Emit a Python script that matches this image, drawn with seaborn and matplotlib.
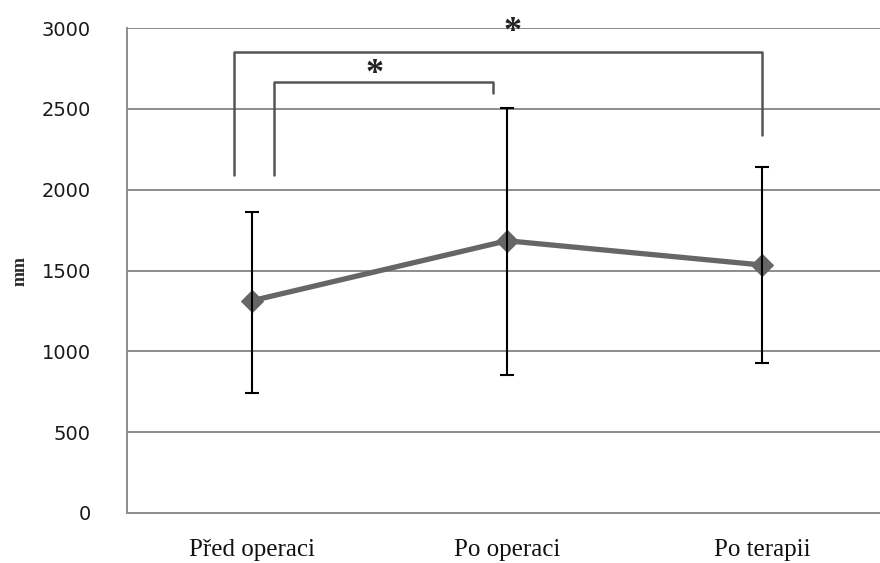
import matplotlib
matplotlib.use("Agg")
import matplotlib.pyplot as plt
import seaborn as sns
import pandas as pd

# Step length (mm) at three time points: mean with lower/upper SD limits
categories = ["Před operaci", "Po operaci", "Po terapii"]
means = [1313, 1684, 1534]
upper = [1863, 2507, 2142]
lower = [744, 853, 930]
y_ticks = [0, 500, 1000, 1500, 2000, 2500, 3000]

df = pd.DataFrame({"stav": categories, "mm": means})

sns.set_theme(style="white")
plt.rcParams["font.family"] = ["DejaVu Sans"]

fig = plt.figure(figsize=(8.8, 5.63), dpi=100)
ax = fig.add_axes([127 / 880, 50 / 563, 753 / 880, 485 / 563])

# horizontal grid
for t in y_ticks:
    ax.axhline(t, color="#8c8c8c", lw=1.4, zorder=0)

sns.lineplot(data=df, x="stav", y="mm", ax=ax, color="#666666", lw=3.8,
             marker="D", markersize=11, markeredgecolor="#666666",
             sort=False, zorder=2)

pos = list(range(len(categories)))
yerr = [[m - lo for m, lo in zip(means, lower)],
        [hi - m for m, hi in zip(means, upper)]]
ax.errorbar(pos, means, yerr=yerr, fmt="none", ecolor="black",
            elinewidth=1.5, capsize=5, capthick=1.5, zorder=3)

# significance brackets
br = "#555555"
ax.plot([-0.071, -0.071, 2.0, 2.0], [2091, 2851, 2851, 2338],
        color=br, lw=1.8, clip_on=False, zorder=2)
ax.plot([0.086, 0.086, 0.945, 0.945], [2091, 2666, 2666, 2598],
        color=br, lw=1.8, clip_on=False, zorder=2)
ax.text(0.482, 2712, "*", ha="center", va="center", fontsize=26,
        family="Liberation Serif", color="#222222", fontweight="bold",
        clip_on=False)
ax.text(1.024, 2972, "*", ha="center", va="center", fontsize=26,
        family="Liberation Serif", color="#222222", fontweight="bold",
        clip_on=False)

ax.set_xlim(-0.49, 2.463)
ax.set_ylim(0, 3000)
ax.set_yticks(y_ticks)
ax.set_yticklabels([str(t) for t in y_ticks], fontsize=14, color="#1a1a1a")
ax.set_xticks(pos)
ax.set_xticklabels(categories, family="Liberation Serif", fontsize=18,
                   color="#111111")
ax.tick_params(axis="y", length=0, pad=26)
ax.tick_params(axis="x", length=0, pad=19)
ax.set_xlabel("")
ax.set_ylabel("mm", family="Liberation Serif", fontweight="bold",
              fontsize=13)
ax.yaxis.set_label_coords(-0.131, 0.5)

for side in ["top", "right"]:
    ax.spines[side].set_visible(False)
for side in ["left", "bottom"]:
    ax.spines[side].set_color("#8c8c8c")
    ax.spines[side].set_linewidth(1.4)

fig.savefig("out.png", dpi=100)
